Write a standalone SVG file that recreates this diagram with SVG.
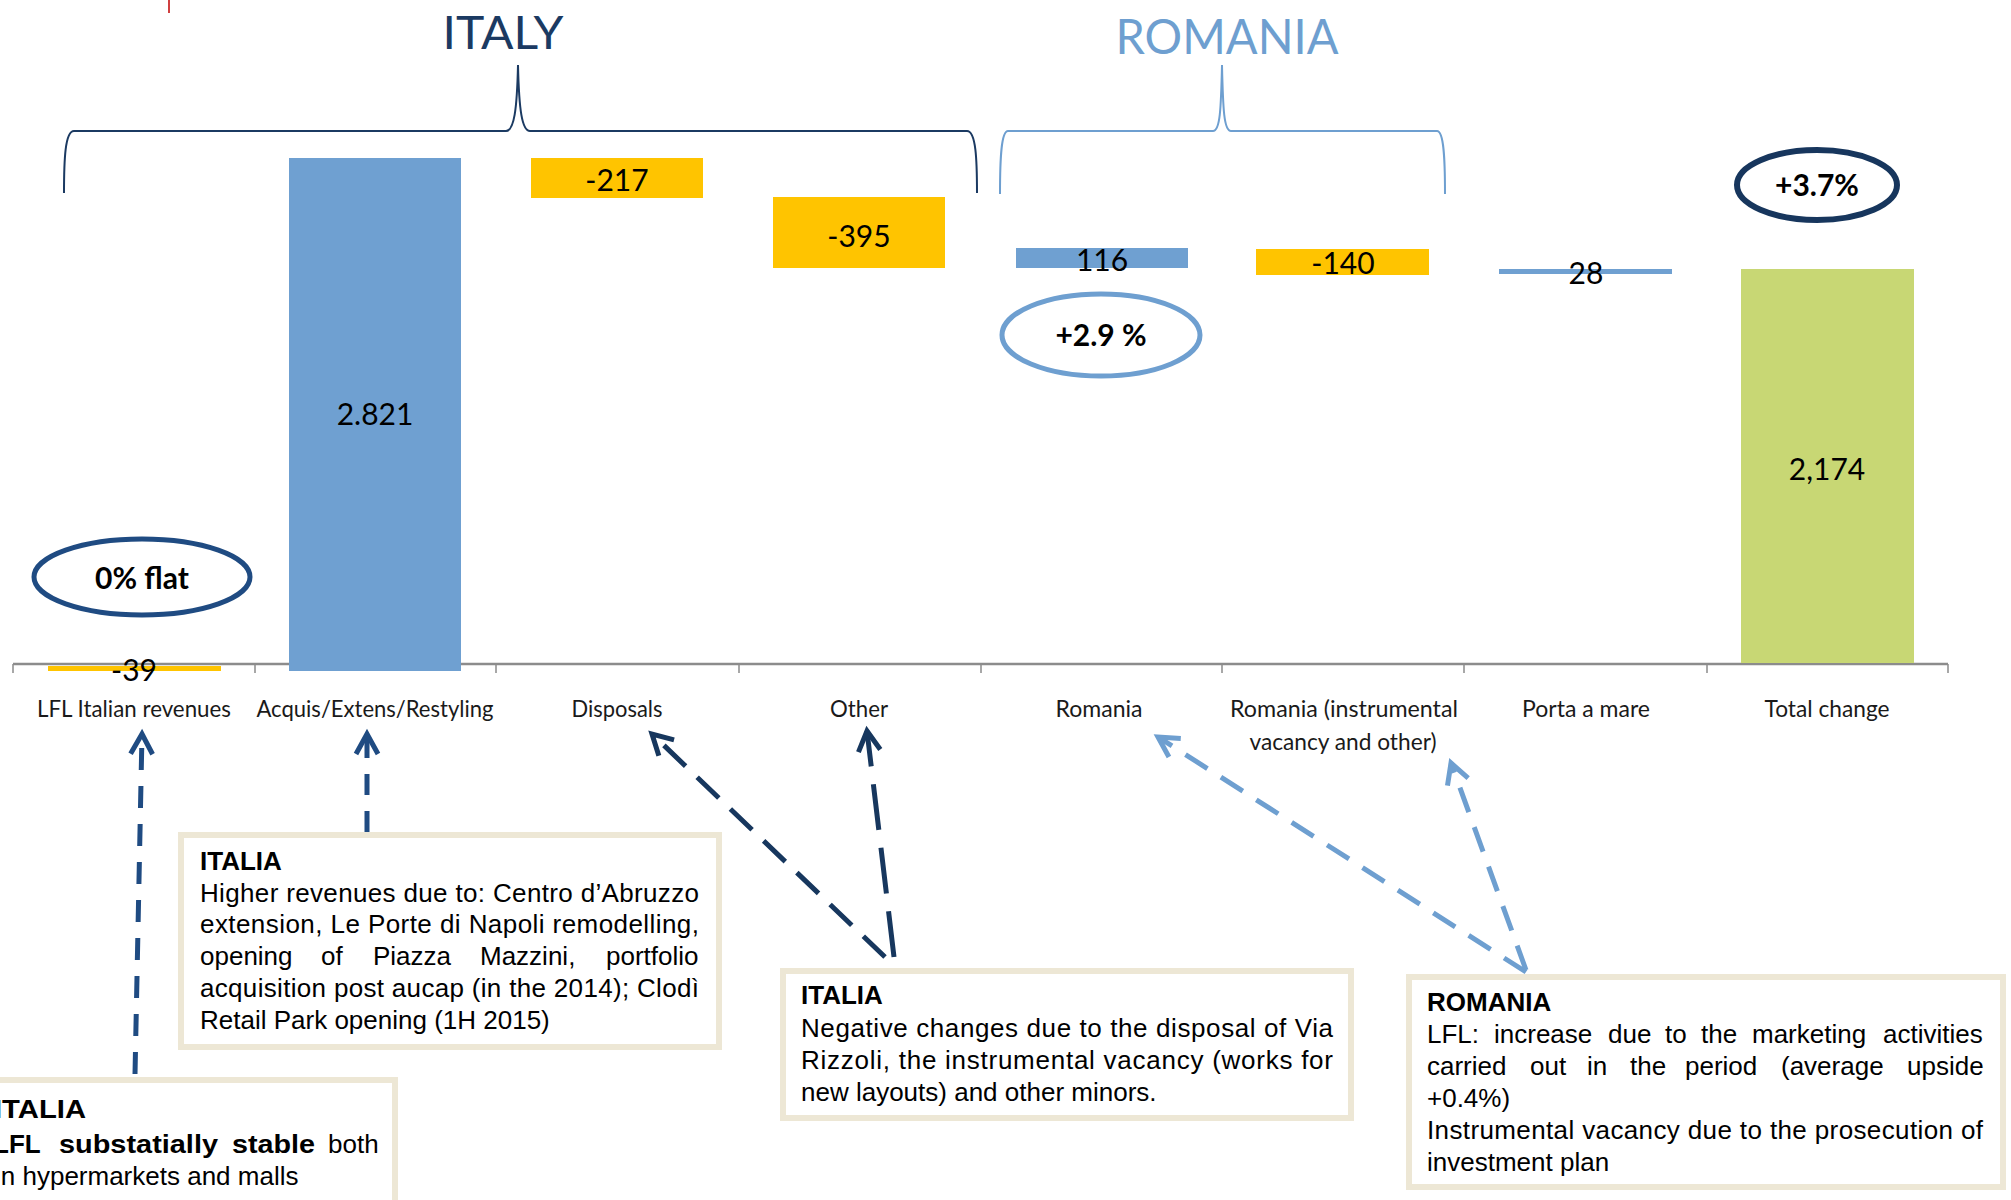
<svg xmlns="http://www.w3.org/2000/svg" width="2011" height="1200" viewBox="0 0 2011 1200">
<style>
.cal{font-family:Lato,"Open Sans","DejaVu Sans",sans-serif;fill:#000}
.cat{font-size:24px;fill:#1a1a1a}
.val{font-size:30px}
.pct{font-size:30px;font-weight:bold}
.title{font-size:47px;font-weight:normal}
.box{fill:#fff;stroke:#EDE7D5;stroke-width:6}
.bt{font-family:"Liberation Sans",Arial,sans-serif;font-size:26px;fill:#000}
.b{font-weight:bold}
.yel{fill:#FFC400}
.blu{fill:#6FA0D1}
.grn{fill:#C8D774}
.ell{fill:none}
.dn{fill:none;stroke:#17375E;stroke-width:5}
.dm{fill:none;stroke:#1F4B82;stroke-width:5}
.dl{fill:none;stroke:#6E9FD0;stroke-width:5}
</style>
<defs>
<marker id="hN" markerUnits="userSpaceOnUse" markerWidth="40" markerHeight="40" refX="0" refY="0" orient="auto" style="overflow:visible"><path d="M-20,-11 L0,0 L-20,11" fill="none" stroke="#17375E" stroke-width="5"/></marker>
<marker id="hM" markerUnits="userSpaceOnUse" markerWidth="40" markerHeight="40" refX="0" refY="0" orient="auto" style="overflow:visible"><path d="M-20,-11 L0,0 L-20,11" fill="none" stroke="#1F4B82" stroke-width="5"/></marker>
<marker id="hL" markerUnits="userSpaceOnUse" markerWidth="40" markerHeight="40" refX="0" refY="0" orient="auto" style="overflow:visible"><path d="M-20,-11 L0,0 L-20,11" fill="none" stroke="#6E9FD0" stroke-width="5"/></marker>
</defs>
<rect width="2011" height="1200" fill="#fff"/>
<line x1="169" y1="0" x2="169" y2="13" stroke="#C00000" stroke-width="1.5"/>

<g id="title-italy">
<text class="cal title" x="503" y="49" text-anchor="middle" style="fill:#1B3A62" textLength="121" lengthAdjust="spacingAndGlyphs">ITALY</text>
<path d="M64,193 C64,160 65,131 74,131 L506,131 C514,131 517,110 518,65 C519,110 522,131 530,131 L967,131 C976,131 977,160 977,193" fill="none" stroke="#1B3A62" stroke-width="2"/>
</g>
<g id="title-romania">
<text class="cal title" x="1227" y="54" text-anchor="middle" style="fill:#6E9FD0;font-size:49px" textLength="223" lengthAdjust="spacingAndGlyphs">ROMANIA</text>
<path d="M1000,194 C1000,160 1001,131 1008,131 L1213,131 C1220,131 1221,110 1222,65 C1223,110 1224,131 1231,131 L1437,131 C1444,131 1445,160 1445,194" fill="none" stroke="#6E9FD0" stroke-width="2"/>
</g>

<g id="axis">
<line x1="13" y1="664" x2="1948" y2="664" stroke="#8C8C8C" stroke-width="2.5"/>
<path d="M13,664V673 M255,664V673 M496,664V673 M739,664V673 M981,664V673 M1222,664V673 M1464,664V673 M1707,664V673 M1948,664V673" stroke="#8C8C8C" stroke-width="1.5"/>
</g>

<g id="bar-lfl">
<rect class="yel" x="48" y="666" width="173" height="5"/>
<text class="cal val" x="134" y="681" text-anchor="middle">-39</text>
<text class="cal cat" x="134" y="717" text-anchor="middle" textLength="194" lengthAdjust="spacingAndGlyphs">LFL Italian revenues</text>
</g>
<g id="bar-acquis">
<rect class="blu" x="289" y="158" width="172" height="513"/>
<text class="cal val" x="375" y="425" text-anchor="middle">2.821</text>
<text class="cal cat" x="375" y="717" text-anchor="middle" textLength="237" lengthAdjust="spacingAndGlyphs">Acquis/Extens/Restyling</text>
</g>
<g id="bar-disposals">
<rect class="yel" x="531" y="158" width="172" height="40"/>
<text class="cal val" x="617" y="191" text-anchor="middle">-217</text>
<text class="cal cat" x="617" y="717" text-anchor="middle" textLength="91" lengthAdjust="spacingAndGlyphs">Disposals</text>
</g>
<g id="bar-other">
<rect class="yel" x="773" y="197" width="172" height="71"/>
<text class="cal val" x="859" y="247" text-anchor="middle">-395</text>
<text class="cal cat" x="859" y="717" text-anchor="middle" textLength="58" lengthAdjust="spacingAndGlyphs">Other</text>
</g>
<g id="bar-romania">
<rect class="blu" x="1016" y="248" width="172" height="20"/>
<text class="cal val" x="1102" y="271" text-anchor="middle">116</text>
<text class="cal cat" x="1099" y="717" text-anchor="middle" textLength="87" lengthAdjust="spacingAndGlyphs">Romania</text>
</g>
<g id="bar-romania-instr">
<rect class="yel" x="1256" y="249" width="173" height="26"/>
<text class="cal val" x="1343" y="274" text-anchor="middle">-140</text>
<text class="cal cat" x="1344" y="717" text-anchor="middle" textLength="228" lengthAdjust="spacingAndGlyphs">Romania (instrumental</text>
<text class="cal cat" x="1343" y="750" text-anchor="middle" textLength="187" lengthAdjust="spacingAndGlyphs">vacancy and other)</text>
</g>
<g id="bar-porta">
<rect class="blu" x="1499" y="269" width="173" height="5"/>
<text class="cal val" x="1586" y="284" text-anchor="middle">28</text>
<text class="cal cat" x="1586" y="717" text-anchor="middle" textLength="128" lengthAdjust="spacingAndGlyphs">Porta a mare</text>
</g>
<g id="bar-total">
<rect class="grn" x="1741" y="269" width="173" height="394"/>
<text class="cal val" x="1827" y="480" text-anchor="middle">2,174</text>
<text class="cal cat" x="1827" y="717" text-anchor="middle" textLength="125" lengthAdjust="spacingAndGlyphs">Total change</text>
</g>

<g id="badge-flat">
<ellipse class="ell" cx="142" cy="577" rx="108" ry="38" stroke="#1F4B82" stroke-width="5"/>
<text class="cal pct" x="142" y="589" text-anchor="middle">0% flat</text>
</g>
<g id="badge-ro">
<ellipse class="ell" cx="1101" cy="335" rx="99" ry="41" stroke="#6E9FD0" stroke-width="5"/>
<text class="cal pct" x="1101" y="346" text-anchor="middle">+2.9 %</text>
</g>
<g id="badge-total">
<ellipse class="ell" cx="1817" cy="185" rx="80" ry="35" stroke="#17365D" stroke-width="6"/>
<text class="cal pct" x="1817" y="196" text-anchor="middle">+3.7%</text>
</g>

<g id="connectors">
<path class="dm" d="M135,1074 L142,734" stroke-dasharray="22 16" marker-end="url(#hM)"/>
<path class="dm" d="M367,832 L367,734" stroke-dasharray="21 16" marker-end="url(#hM)"/>
<path class="dn" d="M885,957 L652,734" stroke-dasharray="30 16" marker-end="url(#hN)"/>
<path class="dn" d="M894,957 L867,731" stroke-dasharray="46 18" marker-end="url(#hN)"/>
<path class="dl" d="M1526,972 L1158,737" stroke-dasharray="26 16" marker-end="url(#hL)"/>
<path class="dl" d="M1526,970 L1451,763" stroke-dasharray="26 16" marker-end="url(#hL)"/>
</g>

<g id="note-lfl">
<rect class="box" x="-10" y="1080" width="405" height="140"/>
<text class="bt b" x="-6" y="1118" textLength="92" lengthAdjust="spacingAndGlyphs">ITALIA</text>
<text class="bt" y="1153"><tspan class="b" x="-7">LFL</tspan><tspan class="b" x="59" textLength="159" lengthAdjust="spacingAndGlyphs">substatially</tspan><tspan class="b" x="232" textLength="83" lengthAdjust="spacingAndGlyphs">stable</tspan><tspan x="328">both</tspan></text>
<text class="bt" x="-5" y="1185">in hypermarkets and malls</text>
</g>

<g id="note-acquis">
<rect class="box" x="181" y="835" width="538" height="212"/>
<text class="bt b" x="200" y="870">ITALIA</text>
<text class="bt" x="200" y="902" textLength="499" lengthAdjust="spacing">Higher revenues due to: Centro d’Abruzzo</text>
<text class="bt" x="200" y="933" textLength="499" lengthAdjust="spacing">extension, Le Porte di Napoli remodelling,</text>
<text class="bt" y="965"><tspan x="200">opening</tspan><tspan x="321">of</tspan><tspan x="373">Piazza</tspan><tspan x="480">Mazzini,</tspan><tspan x="606">portfolio</tspan></text>
<text class="bt" x="200" y="997" textLength="499" lengthAdjust="spacing">acquisition post aucap (in the 2014); Clodì</text>
<text class="bt" x="200" y="1029">Retail Park opening (1H 2015)</text>
</g>

<g id="note-negative">
<rect class="box" x="783" y="971" width="568" height="147"/>
<text class="bt b" x="801" y="1004">ITALIA</text>
<text class="bt" x="801" y="1037" textLength="532" lengthAdjust="spacing">Negative changes due to the disposal of Via</text>
<text class="bt" x="801" y="1069" textLength="532" lengthAdjust="spacing">Rizzoli, the instrumental vacancy (works for</text>
<text class="bt" x="801" y="1101">new layouts) and other minors.</text>
</g>

<g id="note-romania">
<rect class="box" x="1409" y="977" width="594" height="210"/>
<text class="bt b" x="1427" y="1011">ROMANIA</text>
<text class="bt" y="1043"><tspan x="1427">LFL:</tspan><tspan x="1494">increase</tspan><tspan x="1608">due</tspan><tspan x="1665">to</tspan><tspan x="1701">the</tspan><tspan x="1752">marketing</tspan><tspan x="1883">activities</tspan></text>
<text class="bt" y="1075"><tspan x="1427">carried</tspan><tspan x="1530">out</tspan><tspan x="1587">in</tspan><tspan x="1630">the</tspan><tspan x="1685">period</tspan><tspan x="1781">(average</tspan><tspan x="1907">upside</tspan></text>
<text class="bt" x="1427" y="1107">+0.4%)</text>
<text class="bt" x="1427" y="1139" textLength="556" lengthAdjust="spacing">Instrumental vacancy due to the prosecution of</text>
<text class="bt" x="1427" y="1171">investment plan</text>
</g>
</svg>
